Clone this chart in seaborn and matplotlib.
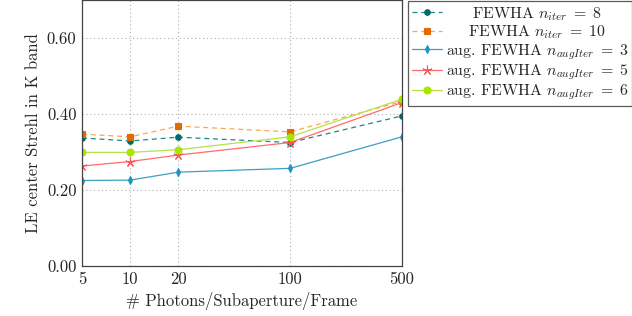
import matplotlib
matplotlib.use("Agg")
import matplotlib.pyplot as plt
import seaborn as sns
import numpy as np

photons = [5, 10, 20, 100, 500]
xtick_labels = ["5", "10", "20", "100", "500"]
fewha_8 = [0.337, 0.329, 0.339, 0.325, 0.395]
fewha_10 = [0.347, 0.340, 0.368, 0.353, 0.433]
aug_3 = [0.225, 0.226, 0.247, 0.257, 0.340]
aug_5 = [0.263, 0.275, 0.292, 0.325, 0.430]
aug_6 = [0.299, 0.299, 0.306, 0.340, 0.439]
yticks = [0.0, 0.2, 0.4, 0.6]

sns.set_style("white")
plt.rcParams['font.family'] = ['cmr10', 'DejaVu Serif']
plt.rcParams['mathtext.fontset'] = 'cm'
plt.rcParams['axes.unicode_minus'] = False
plt.rcParams['axes.formatter.use_mathtext'] = True

fig = plt.figure(figsize=(6.32, 3.16), dpi=100)
ax = fig.add_axes([82/632, 50/316, 320/632, 266/316])

series = [
    (fewha_8, r"FEWHA $n_{iter}\;=\;8$", "#1a8a8a", "#006b6b", "o", 4.0, (0, (4, 3))),
    (fewha_10, r"FEWHA $n_{iter}\;=\;10$", "#ffa64d", "#e06c00", "s", 4.0, (0, (4, 3))),
    (aug_3, r"aug. FEWHA $n_{augIter}\;=\;3$", "#3d9fc2", "#1f95c4", "d", 3.6, "-"),
    (aug_5, r"aug. FEWHA $n_{augIter}\;=\;5$", "#ff6b6b", "#ff5555", (5, 2, 0), 7, "-"),
    (aug_6, r"aug. FEWHA $n_{augIter}\;=\;6$", "#b8e04a", "#a8e600", "o", 5.0, "-"),
]

for vals, lab, lc, mc, m, ms, ls in series:
    sns.lineplot(x=photons, y=vals, ax=ax, color=lc, marker=m, markersize=ms,
                 markerfacecolor=mc, markeredgecolor=mc,
                 markeredgewidth=0.8, linestyle=ls, linewidth=0.9, label=lab)

ax.set_xscale("log")
ax.set_xlim(5, 500)
ax.set_ylim(0, 0.70)
ax.set_xticks(photons)
ax.set_xticklabels(xtick_labels)
ax.minorticks_off()
ax.set_yticks(yticks)
ax.set_yticklabels([f"{v:.2f}" for v in yticks])
ax.grid(True, linestyle=(0, (1, 2.5)), color="#b0b0b0", linewidth=0.8)
ax.tick_params(direction="in", length=3, color="#999999", labelsize=12, pad=4)
for s in ax.spines.values():
    s.set_color("#444444")
    s.set_linewidth(0.9)

ax.set_xlabel(r"# Photons/Subaperture/Frame", fontsize=12)
ax.set_ylabel("LE center Strehl in K band", fontsize=12)

LFS = 11.4
leg = ax.legend(loc="upper left", bbox_to_anchor=(408/632, 1 - 1/316),
                bbox_transform=fig.transFigure, fontsize=LFS, frameon=True,
                fancybox=False, edgecolor="#333333", handlelength=1.9,
                handletextpad=0.25, borderpad=0.25, labelspacing=0.05,
                borderaxespad=0)
leg.get_frame().set_linewidth(0.9)

# center legend labels like pgfplots
fig.canvas.draw()
renderer = fig.canvas.get_renderer()
texts = leg.get_texts()
bbs = [t.get_window_extent(renderer) for t in texts]
left = min(b.x0 for b in bbs)
w = max(b.width for b in bbs)
for t, b in zip(texts, bbs):
    fig.text(left + w / 2, b.y0, t.get_text(), ha="center", va="bottom",
             fontsize=LFS, transform=None, zorder=10)
    t.set_alpha(0)

fig.savefig("out.png", dpi=100)
